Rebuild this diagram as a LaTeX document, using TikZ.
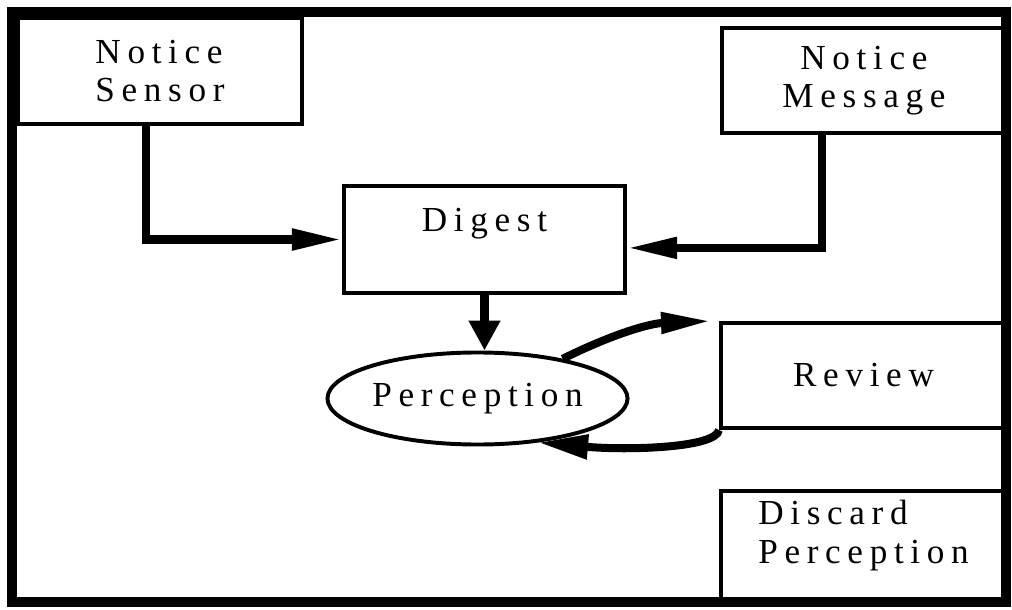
\documentclass[tikz,border=0pt]{standalone}
\usepackage{fontspec}
\setmainfont{Liberation Serif}[LetterSpace=19]
\usetikzlibrary{shapes.geometric,arrows.meta}
\tikzstyle{every node}=[draw=black,line width=2.8pt,inner sep=0pt,font=\fontsize{25pt}{27.5pt}\selectfont]
\tikzstyle{task}=[rectangle,minimum width=7.1cm,minimum height=2.65cm]
\tikzstyle{flow}=[line width=5.7pt,-{Triangle[length=1.25cm,width=0.5cm]}]
\tikzstyle{drop}=[line width=5.7pt,-{Triangle[length=0.75cm,width=0.75cm]}]

\begin{document}
\begin{tikzpicture}[x=0.025cm,y=-0.025cm]
    \useasboundingbox (0,0) rectangle (1012,610);
    \draw[line width=7.1pt] (12,12) rectangle (1006,602);
    \node[task,align=left] (sensor) at (160,71) {Notice\\Sensor};
    \node[task,align=center,minimum height=2.625cm] (message) at (864,80.5) {Notice\\Message};
    \node[task,minimum width=7.025cm,minimum height=2.675cm,
          text height=0.6cm,text depth=0.975cm] (digest) at (484.5,239.5) {Digest};
    \node[ellipse,minimum width=7.5cm,minimum height=2.3cm] (perception) at (477.5,398.5) {Perception};
    \node[task,minimum width=7.125cm,minimum height=2.625cm] (review) at (863.5,375.5) {Review};
    \node[task,align=left,minimum width=7.125cm,minimum height=2.775cm,
          text height=1.6cm,text depth=0.775cm] (discard) at (863.5,546.5) {Discard\\Perception};
    \draw[flow] ([xshift=-0.35cm]sensor.south) |- (digest.west);
    \draw[flow] ([xshift=-1.05cm]message.south) |- ([yshift=-0.21cm]digest.east);
    \draw[drop] (digest.south) -- (digest.south |- perception.north);
    \draw[flow] (perception.25) to[bend left=12] ([xshift=-0.2cm]review.north west);
    \draw[flow,-{Triangle[length=1.25cm,width=0.58cm]}] (review.south west) .. controls +(-3,18) and +(90,8) .. (perception.-36);
\end{tikzpicture}
\end{document}
